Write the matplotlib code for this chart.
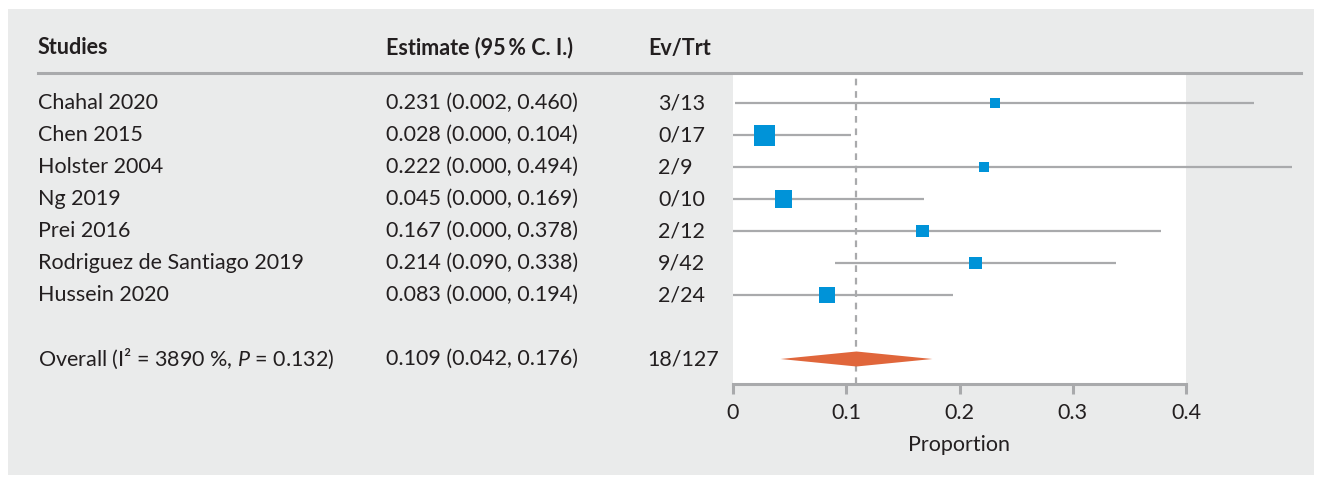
import matplotlib
matplotlib.use('Agg')
import matplotlib.pyplot as plt
import matplotlib.transforms as mtransforms
from matplotlib.patches import Rectangle, Polygon
from matplotlib.lines import Line2D

plt.rcParams['font.family'] = ['Lato', 'DejaVu Sans']
plt.rcParams['mathtext.fontset'] = 'custom'
plt.rcParams['mathtext.rm'] = 'Lato'
plt.rcParams['mathtext.it'] = 'Lato:italic'

# Data
studies = ['Chahal 2020', 'Chen 2015', 'Holster 2004', 'Ng 2019', 'Prei 2016',
           'Rodriguez de Santiago 2019', 'Hussein 2020']
est = [0.231, 0.028, 0.222, 0.045, 0.167, 0.214, 0.083]
lower = [0.002, 0.000, 0.000, 0.000, 0.000, 0.090, 0.000]
upper = [0.460, 0.104, 0.494, 0.169, 0.378, 0.338, 0.194]
ev_trt = ['3/13', '0/17', '2/9', '0/10', '2/12', '9/42', '2/24']
weights = [6.7, 29.5, 6.7, 19.4, 11.3, 11.3, 15.1]  # approx. % weight (square area)

overall_label = 'Overall (I\u00b2 = 3890 %, $P$ = 0.132)'
overall_est = 0.109
overall_lo = 0.042
overall_hi = 0.176
overall_ev = '18/127'

xticks = [0, 0.1, 0.2, 0.3, 0.4]

W, H = 1322, 483
fig = plt.figure(figsize=(W / 100, H / 100), dpi=100)
fig.patch.set_facecolor('white')

bg = '#eaebeb'
grey = '#a9aaac'
txt = '#231f20'
blue = '#0093d8'
orange = '#e0663b'
fs = 15.5

fig.add_artist(Rectangle((8 / W, 1 - 475 / H), (1314 - 8) / W, (475 - 9) / H,
                         transform=fig.transFigure, facecolor=bg, edgecolor='none', zorder=0))

ax = fig.add_axes([733 / W, 1 - 384 / H, (1186 - 733) / W, (384 - 74) / H])
ax.set_facecolor('white')
ax.set_zorder(1)

rows = list(range(len(studies)))
overall_row = len(studies) + 1
ax.set_xlim(0, 0.4)
ax.set_ylim((384 - 103) / 32, (74 - 103) / 32)

for s in ['top', 'right', 'left']:
    ax.spines[s].set_visible(False)
ax.spines['bottom'].set_color(grey)
ax.spines['bottom'].set_linewidth(2.2)
ax.set_yticks([])
ax.set_xticks(xticks)
ax.set_xticklabels(['0', '0.1', '0.2', '0.3', '0.4'])
ax.tick_params(axis='x', length=7, width=2.2, color=grey, labelsize=fs,
               labelcolor=txt, pad=6.5)
ax.set_xlabel('Proportion', fontsize=fs, color=txt, labelpad=9)

# reference line at the pooled estimate
ax.axvline(overall_est, color=grey, lw=1.6, linestyle=(0, (3, 2.6)), zorder=1)

# confidence intervals and squares
ax.hlines(rows, lower, upper, color=grey, lw=1.6, clip_on=False, zorder=2)
sides = [21 * (w / max(weights)) ** 0.5 * 0.72 for w in weights]
ax.scatter(est, rows, s=[sd ** 2 for sd in sides], marker='s', color=blue,
           linewidths=0, zorder=3, clip_on=False)

# pooled diamond
h = 7.5 / 32
ax.add_patch(Polygon([(overall_lo, overall_row), (overall_est, overall_row - h),
                      (overall_hi, overall_row), (overall_est, overall_row + h)],
                     closed=True, facecolor=orange, edgecolor='none', zorder=3))

# text columns
tr = mtransforms.blended_transform_factory(fig.transFigure, ax.transData)
x_study, x_est, x_ev = 38 / W, 386 / W, 658 / W
head_y = (48 - 103) / 32
for x, lab in [(x_study, 'Studies'), (x_est, 'Estimate (95\u2009% C. I.)'), (648 / W, 'Ev/Trt')]:
    ax.text(x, head_y, lab, transform=tr, fontsize=fs, fontweight='bold',
            color=txt, va='center', ha='left', clip_on=False)

for i in rows:
    ax.text(x_study, i, studies[i], transform=tr, fontsize=fs, color=txt, va='center')
    ax.text(x_est, i, '%.3f (%.3f, %.3f)' % (est[i], lower[i], upper[i]),
            transform=tr, fontsize=fs, color=txt, va='center')
    ax.text(x_ev, i, ev_trt[i], transform=tr, fontsize=fs, color=txt, va='center')

ax.text(x_study, overall_row, overall_label, transform=tr, fontsize=fs, color=txt, va='center')
ax.text(x_est, overall_row, '%.3f (%.3f, %.3f)' % (overall_est, overall_lo, overall_hi),
        transform=tr, fontsize=fs, color=txt, va='center')
ax.text(647 / W, overall_row, overall_ev, transform=tr, fontsize=fs, color=txt, va='center')

# header rule
fig.add_artist(Line2D([38 / W, 1301 / W], [1 - 73 / H, 1 - 73 / H], color=grey, lw=2.2,
                      transform=fig.transFigure, zorder=2))

fig.savefig('out.png', dpi=100, facecolor='white')
